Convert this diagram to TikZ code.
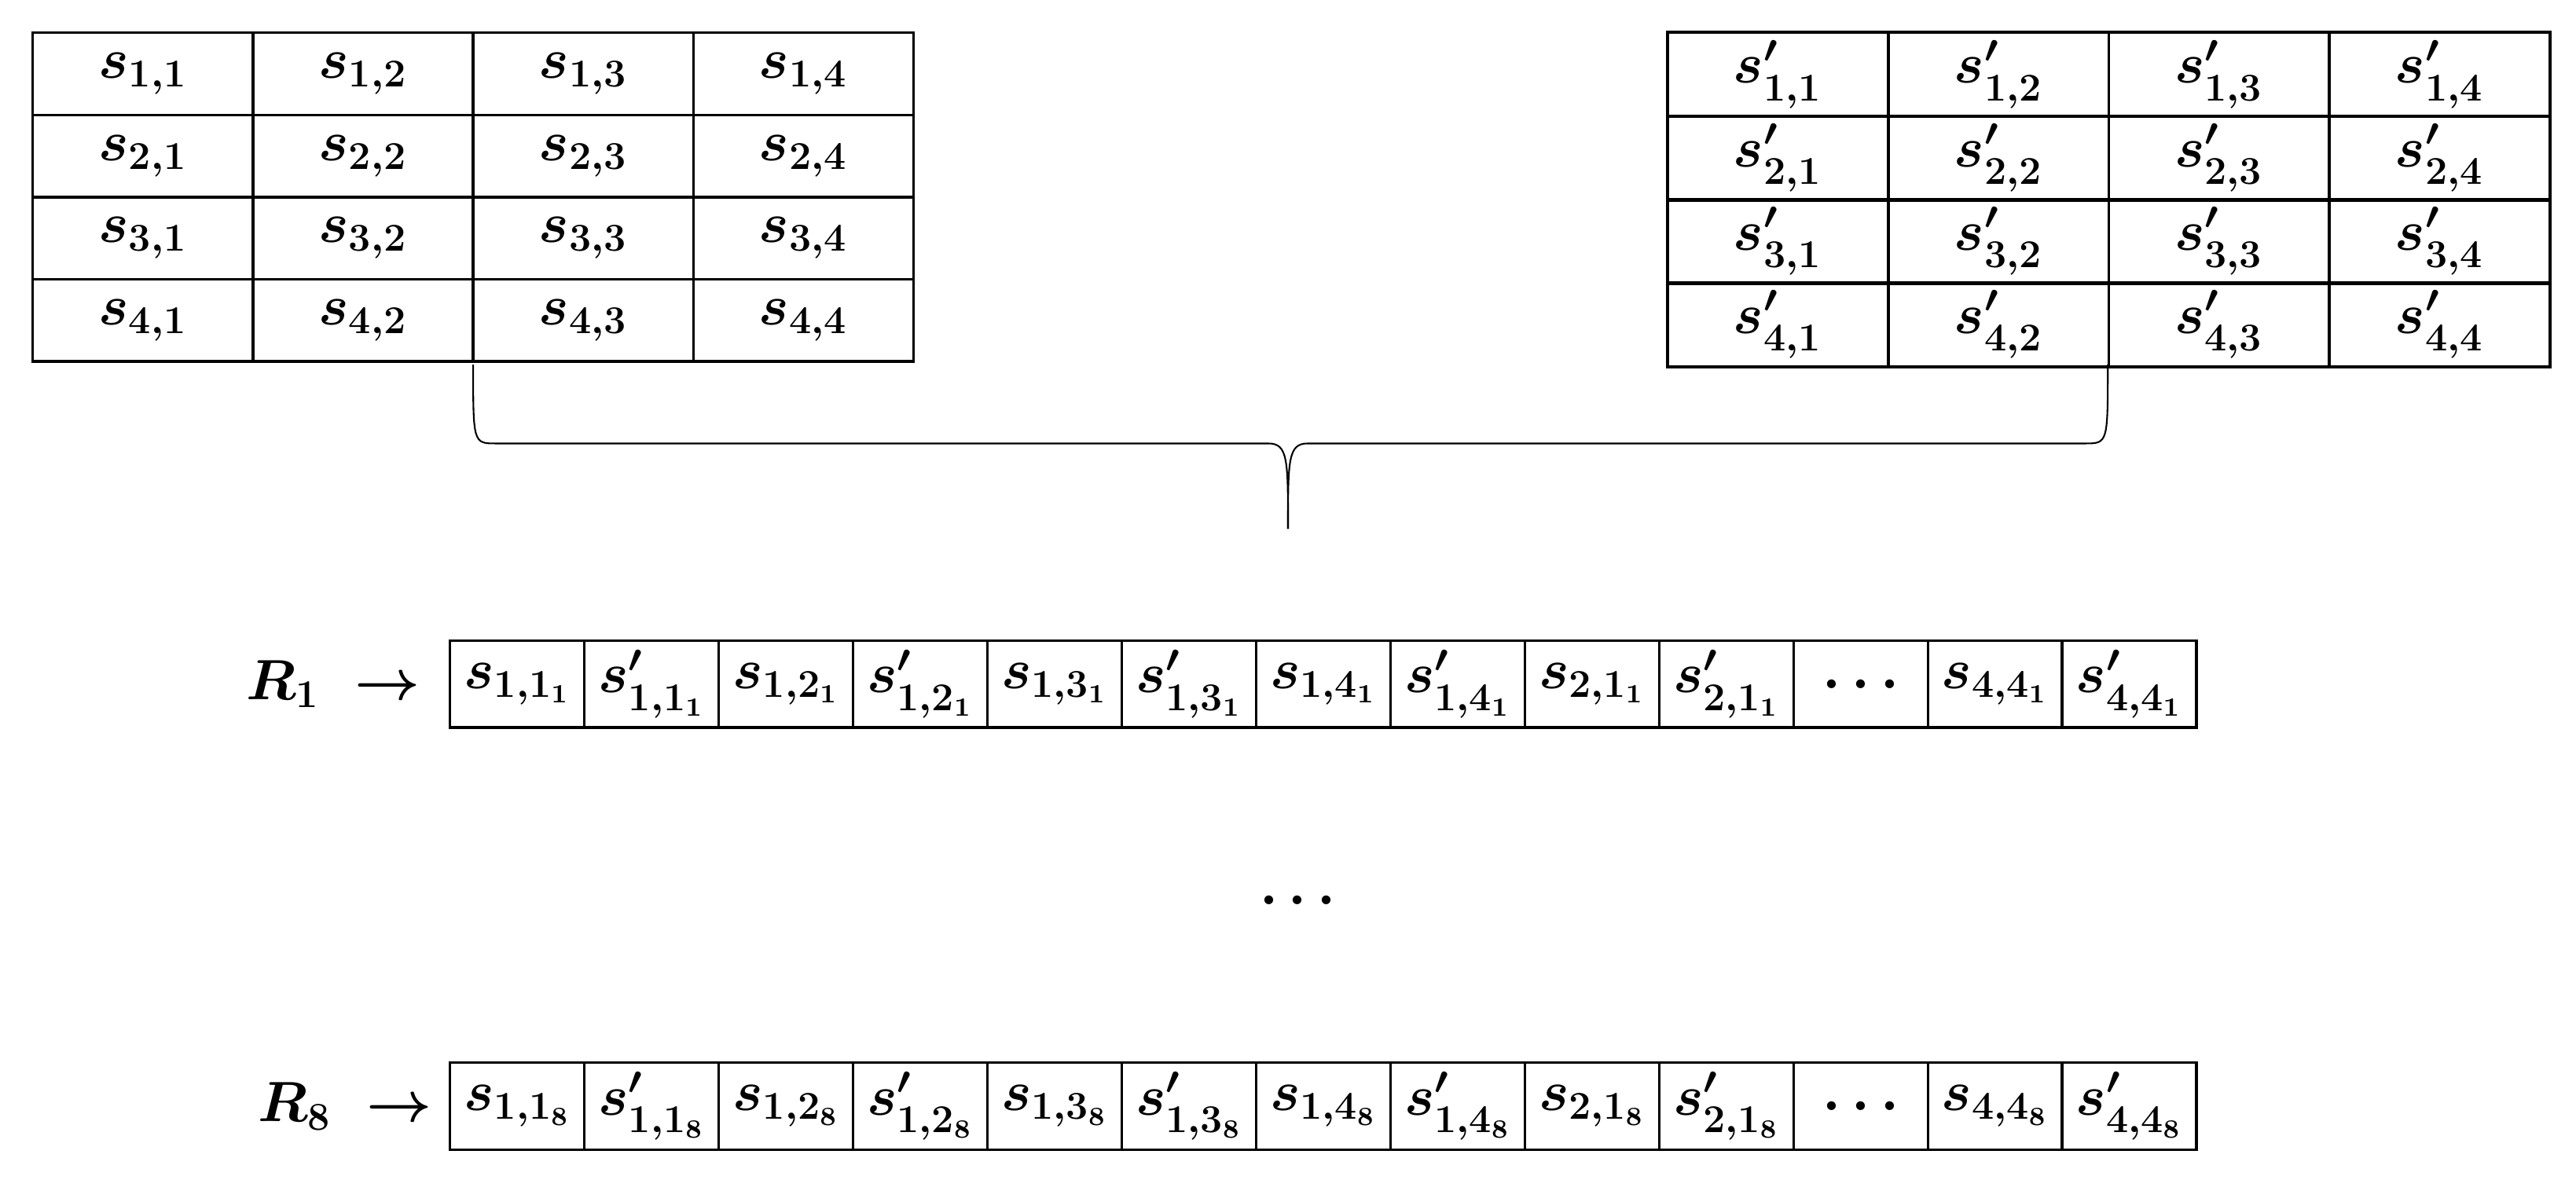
\documentclass[tikz,border=0pt]{standalone}
\usepackage{amsmath}
\begin{document}
\boldmath
\begin{tikzpicture}[x=0.5pt,y=-0.5pt,
  cell/.style={draw,line width=0.8pt,inner sep=0pt,font=\fontsize{16.5}{18}\selectfont},
  brace/.style={line width=0.5pt}]
\useasboundingbox (0,0) rectangle (1568,718);
% left table
\foreach \r in {1,...,4}{\foreach \c in {1,...,4}{
  \node[cell,minimum width=67pt,minimum height=25pt] (L\r\c) at ({20+67+134*(\c-1)},{45+50*(\r-1)}) {$s_{\r,\c}$};}}
% right table
\foreach \r in {1,...,4}{\foreach \c in {1,...,4}{
  \node[cell,minimum width=67.2pt,minimum height=25.75pt] (Q\r\c) at ({1015+67.2+134.25*(\c-1)},{45.4+50.75*(\r-1)}) {$s'_{\r,\c}$};}}
% brace
\coordinate (bl) at (288,222); \coordinate (br) at (1283,222); \coordinate (bt) at (784,322);
\draw[brace] (bl) .. controls (288,270) .. (302,270) -- (772,270) .. controls (784,270) and (784,280) .. (bt);
\draw[brace] (br) .. controls (1283,270) .. (1269,270) -- (796,270) .. controls (784,270) and (784,280) .. (bt);
% rows
\foreach \k/\y/\lx in {1/416.5/203, 8/673.5/210}{
  \node[font=\fontsize{17}{19}\selectfont] (lab\k) at (\lx,\y) {$R_{\k}\ \rightarrow$};
  \foreach \t [count=\i] in {s_{1,1_{\k}},s'_{1,1_{\k}},s_{1,2_{\k}},s'_{1,2_{\k}},s_{1,3_{\k}},s'_{1,3_{\k}},s_{1,4_{\k}},s'_{1,4_{\k}},s_{2,1_{\k}},s'_{2,1_{\k}},\ldots,s_{4,4_{\k}},s'_{4,4_{\k}}}{
    \node[cell,minimum width=40.88pt,minimum height=26.5pt] (R\k c\i) at ({274+40.88+81.77*(\i-1)},\y) {$\t$};}}
\node[font=\fontsize{16.5}{18}\selectfont] (dots) at (790,548) {$\ldots$};
\end{tikzpicture}
\end{document}
